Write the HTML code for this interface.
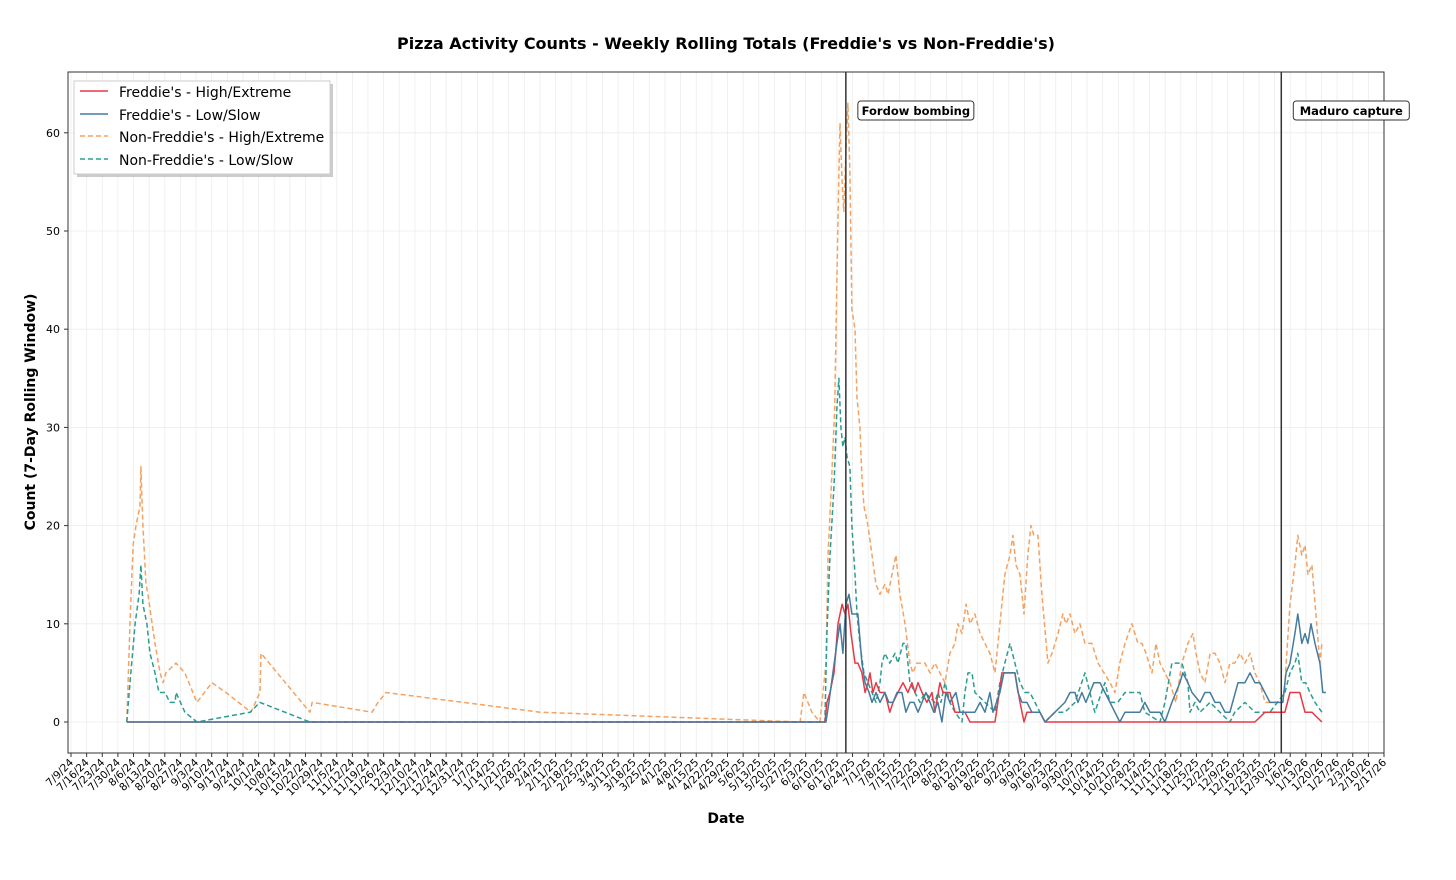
<!DOCTYPE html>
<html><head><meta charset="utf-8"><style>
html,body{margin:0;padding:0;background:#fff;}
svg{display:block;font-family:"DejaVu Sans","Liberation Sans",sans-serif;}
</style></head><body>
<svg id="chart" width="1456" height="880" viewBox="0 0 1456 880" xmlns="http://www.w3.org/2000/svg">
<rect width="1456" height="880" fill="#fff"/>
<text x="726" y="49" text-anchor="middle" font-size="16" font-weight="bold">Pizza Activity Counts - Weekly Rolling Totals (Freddie's vs Non-Freddie's)</text>
<g id="grid"></g>
<g id="series"></g>
<rect x="68" y="72" width="1316" height="681" fill="none" stroke="#333" stroke-width="1"/>
<g id="xaxis"></g>
<g id="yaxis"></g>
<text x="726" y="823" text-anchor="middle" font-size="14" font-weight="bold">Date</text>
<text transform="translate(35,412) rotate(-90)" text-anchor="middle" font-size="14" font-weight="bold">Count (7-Day Rolling Window)</text>
<g id="events"></g>
<g>
<rect x="77" y="84" width="256" height="93" fill="#999" opacity="0.5"/>
<rect x="74" y="81" width="256" height="93" fill="#fff" stroke="#ccc"/>
<line x1="80" y1="91" x2="108" y2="91" stroke="#e63946" stroke-width="1.5"/>
<text x="119" y="97" font-size="14">Freddie's - High/Extreme</text>
<line x1="80" y1="114" x2="108" y2="114" stroke="#457b9d" stroke-width="1.5"/>
<text x="119" y="120" font-size="14">Freddie's - Low/Slow</text>
<line x1="80" y1="136" x2="108" y2="136" stroke="#f4a261" stroke-width="1.5" stroke-dasharray="5,3"/>
<text x="119" y="142" font-size="14">Non-Freddie's - High/Extreme</text>
<line x1="80" y1="159" x2="108" y2="159" stroke="#2a9d8f" stroke-width="1.5" stroke-dasharray="5,3"/>
<text x="119" y="165" font-size="14">Non-Freddie's - Low/Slow</text>
</g>
</svg>
<script>
// days since 2024-07-09
const nfHighDays=[25,26.4,27.8,29.1,30.9,31.3,32.2,33.6,34.5,36.3,37.6,39.9,41.2,42.5,47,51,56.4,63.1,69.4,80.6,84.6,85.1,107,108,134.8,137.5,141,210,326.5,328.2,331.8,335.4,338.1,339,340.3,342,343,343.9,344.4,345.3,346.1,347,347.9,348.8,349.7,351.1,352,353.3,354.2,355.1,356.9,358.7,360.5,362.3,364.5,365.9,367.6,369.4,371.2,373.5,375.7,377,378.8,382.4,384.7,386.9,389.1,391.4,393.6,395.9,397.2,399,400.8,402.6,404.8,407.1,409.3,411.5,413.8,416,418.2,420.5,421.8,423.2,425,426.8,428.5,429.9,431.2,433,434.8,437.5,439.3,442,444.2,445.6,447.4,449.6,451.8,454.1,457.2,459.9,462.6,465.3,467.5,469.7,472,475.1,477.8,479.6,481.4,484.1,485.9,487.7,489.9,492.1,494.8,497.5,500.2,502.4,503.8,505.6,507.8,510.1,512.3,514.5,516.8,519,521.2,523.5,525.7,528,530.2,532.4,534.7,536.9,542.7,543.6,545.9,548.1,549.4,551.2,552.6,553.9,555.7,557.5,559.3,560.2];
const nfHighVals=[0,10,18,20,22,26,20,14,13,10,8,5,4,5,6,5,2,4,3,1,3,7,1,2,1,2,3,1,0,3,1,0,6,17,23,32,45,56,61,55,52,58,63,56,42,40,33,30,25,22,20,17,14,13,14,13,15,17,13,10,6,5,6,6,5,6,5,4,7,8,10,9,12,10,11,9,8,7,5,10,15,17,19,16,15,11,17,20,19,19,13,6,7,9,11,10,11,9,10,8,8,6,5,4,3,6,8,10,8,8,7,5,8,6,5,4,2,6,8,9,7,5,4,7,7,6,4,6,6,7,6,7,5,4,2,2,2,4,12,16,19,17,18,15,16,11,6,8];
const nfLowDays=[25,26.4,28.7,30.5,31.3,32.2,34,35.4,37.6,39.4,42.1,44.3,46.6,47,51,56.4,80.2,84.6,107,337.6,338.5,339.9,341.7,343,343.9,344.8,345.7,346.6,347.5,348.8,349.7,351.1,352,353.3,355.1,356.9,358.7,360.5,362.3,363.2,364.5,366.7,369,370.3,372.6,373.9,374.8,375.7,377.9,380.2,382.4,386.9,388.2,389.6,391.4,393.6,395.9,399,400.3,401.7,403.5,404.8,409.3,413.8,416,418.2,420.5,422.7,425,427.2,429.4,431.7,433.9,436.2,440.6,445.1,449.6,454.1,456.3,458.5,463,465.3,468.8,472,478.7,480.9,487.7,489.9,493,497.5,500.2,501.1,503.3,505.6,510.1,514.5,519,521.2,525.7,530.2,536.9,543.6,545.9,548.1,549.4,551.2,553,554.8,557.1,560.2];
const nfLowVals=[0,4,10,13,16,12,10,7,5,3,3,2,2,3,1,0,1,2,0,0,9,17,24,32,35,30,28,29,27,26,20,15,11,8,5,4,3,2,4,6,7,6,7,6,8,8,6,4,3,2,3,2,3,2,4,2,1,0,3,5,5,3,2,1,4,6,8,6,4,3,3,2,1,0,1,1,2,5,3,1,4,2,2,3,3,1,0,2,6,6,4,1,2,1,2,1,0,1,2,1,1,3,5,6,7,4,4,3,2,1];
const fHighDays=[25,337.6,338.5,339.9,341.7,343.5,345.3,346.6,347.9,349.3,351.1,352.4,354.2,355.6,356.9,357.8,359.1,360.5,362.3,364.5,366.7,368.1,370.3,372.6,374.8,376.6,377.9,379.3,381.1,383.3,385.6,386.9,389.1,390.5,393.6,395.9,400.3,402.6,413.8,415.1,416.9,422.7,425,426.8,428.1,433.9,436.2,530.2,534.7,543.6,545.9,550.3,552.6,555.7,560.2];
const fHighVals=[0,0,2,3,5,10,12,11,12,9,6,6,5,3,4,5,3,4,3,3,1,2,3,4,3,4,3,4,3,2,3,1,4,3,3,1,1,0,0,2,5,5,2,0,1,1,0,0,1,1,3,3,1,1,0];
const fLowDays=[25,338.1,339.4,341.2,343,344.4,345.7,347,348.4,349.7,352.4,354.2,355.6,357.4,358.7,360.5,362.3,364.5,366.3,368.1,369.9,372.1,373.9,375.7,377.5,379.3,381.1,382.9,384.7,386.4,388.2,390,391.8,393.6,396.3,398.1,404.8,407.1,409.3,411.5,412.9,416,417.8,422.7,424.1,425.9,428.1,430.3,433.9,436.2,440.6,445.1,447.4,449.6,450.9,452.7,454.5,456.3,458.1,460.8,463,465.3,467.5,469.7,472,478.7,480.9,483.2,487.7,489.9,493,496.6,497.9,500.2,502,505.6,507.8,510.1,512.3,514.5,516.8,519,522.6,525.7,528,530.2,532.4,536.9,542.7,544.1,545.9,548.1,549.4,551.2,552.6,553.9,555.3,557.1,559.3,560.6,562];
const fLowVals=[0,0,2,5,8,10,7,12,13,11,11,6,4,3,2,3,2,3,2,2,3,3,1,2,2,1,2,3,2,1,2,0,3,2,3,1,1,2,1,3,1,3,5,5,3,2,2,1,1,0,1,2,3,3,2,3,2,3,4,4,3,2,1,0,1,1,2,1,1,0,2,4,5,4,3,2,3,3,2,2,1,1,4,4,5,4,4,2,2,5,6,9,11,8,9,8,10,8,6,3,3];
const yTicks=[0,10,20,30,40,50,60];
const eventDays=[347,542];
const eventLabels=["Fordow bombing","Maduro capture"];

const NS="http://www.w3.org/2000/svg";
const X0=71, PXD=2.2330, Y0=722, PXV=9.82;
const xOf=d=>X0+d*PXD, yOf=v=>Y0-v*PXV;
function mk(tag,attrs,parent){const e=document.createElementNS(NS,tag);for(const k in attrs)e.setAttribute(k,attrs[k]);parent.appendChild(e);return e;}
const grid=document.getElementById('grid'),xa=document.getElementById('xaxis'),ya=document.getElementById('yaxis'),sg=document.getElementById('series'),ev=document.getElementById('events');
const start=Date.UTC(2024,6,9);
for(let w=0;w<=84;w++){
  const x=xOf(w*7);
  const gl=mk('line',{x1:x,y1:72,x2:x,y2:753,stroke:'#ececec','stroke-width':0.8},grid);
  
  
  const t=mk('line',{x1:x,y1:753,x2:x,y2:757,stroke:'#333'},xa);
  
  
  const dt=new Date(start+w*7*86400000);
  const lab=(dt.getUTCMonth()+1)+'/'+dt.getUTCDate()+'/'+String(dt.getUTCFullYear()).slice(2);
  const tx=mk('text',{x:x+3,y:763,'font-size':10.5,'text-anchor':'end',transform:`rotate(-45 ${x+3} 763)`},xa);
  tx.textContent=lab;
  
  
}
yTicks.forEach(v=>{
  const y=yOf(v);
  const gl=mk('line',{x1:68,y1:y,x2:1384,y2:y,stroke:'#ececec','stroke-width':0.8},grid);
  
  
  const t=mk('line',{x1:64,y1:y,x2:68,y2:y,stroke:'#333'},ya);
  
  
  const tx=mk('text',{x:60,y:y+4,'font-size':11,'text-anchor':'end'},ya);
  tx.textContent=v;
  
  
});
function line(days,vals,color,dash,name){
  const n=Math.min(days.length,vals.length);let d='';
  for(let i=0;i<n;i++)d+=(i?'L':'M')+xOf(days[i]).toFixed(1)+','+yOf(vals[i]).toFixed(1);
  const p=mk('path',{d:d,fill:'none',stroke:color,'stroke-width':1.5,'stroke-linejoin':'round'},sg);
  if(dash)p.setAttribute('stroke-dasharray','5,3');
  
  
}
line(nfHighDays,nfHighVals,'#f4a261',true,'nonfreddies-high-line');
line(nfLowDays,nfLowVals,'#2a9d8f',true,'nonfreddies-low-line');
line(fHighDays,fHighVals,'#e63946',false,'freddies-high-line');
line(fLowDays,fLowVals,'#457b9d',false,'freddies-low-line');
eventDays.forEach((d,i)=>{
  const x=xOf(d);
  const l=mk('line',{x1:x,y1:72,x2:x,y2:753,stroke:'#333','stroke-width':1.5},ev);
  
  
  const w=eventLabels[i].length*8+4;
  const r=mk('rect',{x:x+12,y:101,width:w,height:19,rx:3,fill:'#fff',stroke:'#333'},ev);
  
  
  const t=mk('text',{x:x+12+w/2,y:115,'font-size':11.5,'font-weight':'bold','text-anchor':'middle'},ev);
  t.textContent=eventLabels[i];
  
  
});
</script>
</body></html>
